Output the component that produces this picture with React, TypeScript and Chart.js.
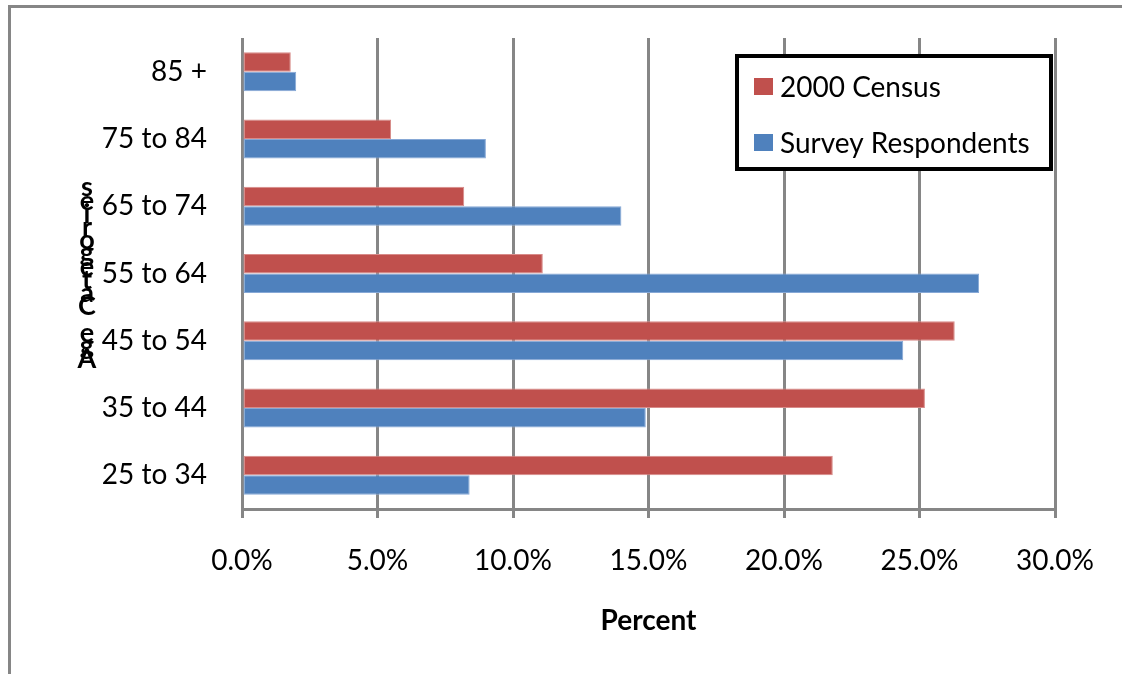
import { useEffect, useRef } from "react";
import { Chart, registerables } from "chart.js";

Chart.register(...registerables);

// Age groups, top row first
const ageGroups = ["85 +", "75 to 84", "65 to 74", "55 to 64", "45 to 54", "35 to 44", "25 to 34"];
// Share of population in each age group (%)
const census2000 = [1.8, 5.5, 8.2, 11.1, 26.3, 25.2, 21.8];
const surveyRespondents = [2.0, 9.0, 14.0, 27.2, 24.4, 14.9, 8.4];
const percentTicks = [0, 5, 10, 15, 20, 25, 30];

const seriesNames = ["2000 Census", "Survey Respondents"];
const yAxisTitle = "Age Categories";
const xAxisTitle = "Percent";

const GRID = "#868686";
const RED = "#C0504D";
const BLUE = "#4F81BD";
const FONT = "Lato, 'Open Sans', sans-serif";

// Outer frame: top and left edges of the chart border
const framePlugin = {
  id: "frame",
  beforeDraw(chart: any) {
    const ctx = chart.ctx;
    ctx.save();
    ctx.fillStyle = "#ffffff";
    ctx.fillRect(0, 0, chart.width, chart.height);
    ctx.strokeStyle = GRID;
    ctx.lineWidth = 3;
    ctx.beginPath();
    ctx.moveTo(chart.width, 6.5);
    ctx.lineTo(9.5, 6.5);
    ctx.lineTo(9.5, chart.height);
    ctx.stroke();
    ctx.restore();
  },
};

// Vertical axis title written as upright letters stacked from bottom to top
const stackedTitlePlugin = {
  id: "stackedTitle",
  afterDraw(chart: any) {
    const ctx = chart.ctx;
    ctx.save();
    ctx.font = `bold 27px ${FONT}`;
    ctx.fillStyle = "#000";
    ctx.textAlign = "center";
    ctx.textBaseline = "alphabetic";
    const chars = Array.from(yAxisTitle);
    const step = 13.2;
    chars.forEach((c, i) => {
      ctx.fillText(c, 87, 368 - i * step);
    });
    ctx.restore();
  },
};

// Boxed legend inside the plot area
const boxedLegendPlugin = {
  id: "boxedLegend",
  afterDraw(chart: any) {
    const ctx = chart.ctx;
    const x0 = 737, y0 = 56, w = 314, h = 113;
    ctx.save();
    ctx.fillStyle = "#ffffff";
    ctx.fillRect(x0, y0, w, h);
    ctx.strokeStyle = "#000";
    ctx.lineWidth = 4;
    ctx.strokeRect(x0, y0, w, h);
    ctx.font = `28px ${FONT}`;
    ctx.textBaseline = "middle";
    ctx.textAlign = "left";
    chart.data.datasets.forEach((ds: any, i: number) => {
      const cy = 87 + i * 56;
      ctx.fillStyle = ds.backgroundColor;
      ctx.fillRect(754, cy - 9, 19, 17);
      ctx.fillStyle = "#000";
      ctx.fillText(ds.label, 780, cy + 1);
    });
    ctx.restore();
  },
};

export default function App() {
  const canvasRef = useRef<HTMLCanvasElement | null>(null);

  useEffect(() => {
    if (!canvasRef.current) return;
    const chart = new Chart(canvasRef.current, {
      type: "bar",
      data: {
        labels: ageGroups,
        datasets: [
          {
            label: seriesNames[0],
            data: census2000,
            backgroundColor: RED,
            borderColor: "#D88B89",
            borderWidth: 1,
            borderSkipped: false,
          },
          {
            label: seriesNames[1],
            data: surveyRespondents,
            backgroundColor: BLUE,
            borderColor: "#86A8D6",
            borderWidth: 1,
            borderSkipped: false,
          },
        ],
      },
      options: {
        indexAxis: "y",
        animation: false,
        responsive: false,
        maintainAspectRatio: false,
        layout: { padding: { top: 38, right: 67, bottom: 0, left: 0 } },
        datasets: {
          bar: { categoryPercentage: 0.58, barPercentage: 1 },
        },
        plugins: {
          legend: { display: false },
          tooltip: { enabled: false },
          title: { display: false },
        },
        scales: {
          x: {
            type: "linear",
            min: 0,
            max: 30,
            afterBuildTicks: (s: any) => {
              s.ticks = percentTicks.map((v) => ({ value: v }));
            },
            afterFit: (s: any) => {
              s.height = 165;
            },
            grid: {
              color: GRID,
              lineWidth: 3,
              drawTicks: true,
              tickLength: 9,
              tickColor: GRID,
            },
            border: { display: true, color: GRID, width: 3 },
            ticks: {
              padding: 26,
              color: "#000",
              font: { family: FONT, size: 28 },
              maxRotation: 0,
              callback: (v: any) => Number(v).toFixed(1) + "%",
            },
            title: {
              display: true,
              text: xAxisTitle,
              color: "#000",
              font: { family: FONT, size: 28, weight: "bold" },
              padding: { top: 0, bottom: 36 },
            },
          },
          y: {
            type: "category",
            afterFit: (s: any) => {
              s.width = 242;
              s.paddingTop = 0;
              s.paddingBottom = 0;
            },
            grid: { display: false, drawTicks: false },
            border: { display: false },
            ticks: {
              padding: 35,
              color: "#000",
              font: { family: FONT, size: 28 },
            },
          },
        },
      },
      plugins: [framePlugin, stackedTitlePlugin, boxedLegendPlugin],
    } as any);
    return () => chart.destroy();
  }, []);

  return (
    <div style={{ position: "fixed", left: 0, top: 0, width: 1122, height: 674, background: "#fff" }}>
      <canvas ref={canvasRef} width={1122} height={674} style={{ display: "block", width: 1122, height: 674 }} />
    </div>
  );
}
